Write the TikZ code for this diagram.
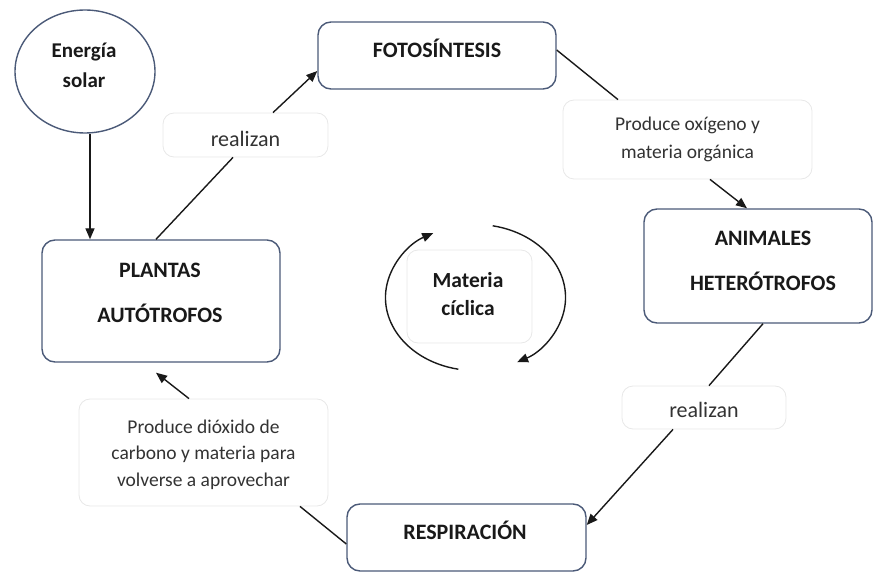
\documentclass[tikz,border=0pt]{standalone}
\usepackage{fontspec}
\setmainfont{Carlito}
\usetikzlibrary{arrows.meta,calc,shapes.geometric}
\definecolor{boxline}{RGB}{75,90,120}
\definecolor{lblline}{RGB}{232,232,232}
\begin{document}
\begin{tikzpicture}[x=1pt,y=-1pt,
  mainbox/.style={draw=boxline, line width=1.4pt, rounded corners=13pt, fill=white, inner sep=0pt},
  lblbox/.style={draw=lblline, line width=0.8pt, rounded corners=11pt, fill=white, inner sep=0pt},
  bigtxt/.style={font=\fontsize{22}{45}\selectfont\bfseries, align=center, text=black!90},
  smalltxt/.style={font=\fontsize{19.5}{27}\selectfont, align=center, text=black!80},
  reltxt/.style={font=\fontsize{22}{25}\selectfont, align=center, text=black!80},
  conn/.style={line width=1.4pt, black!90},
  arr/.style={conn, -{Triangle[length=11pt,width=9pt]}}
]
\useasboundingbox (0,0) rectangle (873,572);

% main boxes
\node[mainbox, ellipse, minimum width=140pt, minimum height=123pt,
  label={[bigtxt, font=\fontsize{21}{30}\selectfont\bfseries, xshift=-1pt, yshift=6.5pt]center:Energía\\solar}] (energia) at (85,71.5) {};
\node[mainbox, minimum width=238pt, minimum height=122pt,
  label={[bigtxt, xshift=-1pt, yshift=8.5pt]center:PLANTAS\\AUTÓTROFOS}] (plantas) at (161,301) {};
\node[mainbox, minimum width=238pt, minimum height=67pt,
  label={[bigtxt, yshift=7.5pt]center:FOTOSÍNTESIS}] (fotos) at (437,55.5) {};
\node[mainbox, minimum width=228pt, minimum height=114pt,
  label={[bigtxt, xshift=5pt, yshift=5.5pt]center:ANIMALES\\HETERÓTROFOS}] (animales) at (758,266) {};
\node[mainbox, minimum width=239pt, minimum height=67pt,
  label={[bigtxt, xshift=-1.5pt, yshift=7.5pt]center:RESPIRACIÓN}] (resp) at (466.5,537.5) {};

% label boxes
\node[lblbox, minimum width=165pt, minimum height=44pt,
  label={[reltxt, yshift=-4pt]center:realizan}] (real1) at (245.5,135) {};
\node[lblbox, minimum width=249pt, minimum height=79pt,
  label={[smalltxt, font=\fontsize{19.5}{28}\selectfont]center:Produce oxígeno y\\materia orgánica}] (oxi) at (687.5,139.5) {};
\node[lblbox, minimum width=164pt, minimum height=43pt,
  label={[reltxt, yshift=-2.5pt]center:realizan}] (real2) at (704,407.5) {};
\node[lblbox, minimum width=249pt, minimum height=107pt,
  label={[smalltxt, font=\fontsize{19.5}{26.5}\selectfont, yshift=-2pt]center:Produce dióxido de\\carbono y materia para\\volverse a aprovechar}] (diox) at (203.5,452.5) {};
\node[lblbox, minimum width=125pt, minimum height=93pt,
  label={[bigtxt, font=\fontsize{21.5}{28}\selectfont\bfseries, xshift=-1.5pt, yshift=2.5pt]center:Materia\\cíclica}] (materia) at (469.5,296.5) {};

% connector end points
\coordinate (e1) at ($(energia.south)+(5,0)$);
\coordinate (p1) at ($(plantas.north)+(-5,0)$);
\coordinate (r1b) at ($(real1.south)+(-12.5,0)$);
\coordinate (r1t) at ($(real1.north)+(27.5,0)$);
\coordinate (f1) at ($(fotos.west)+(0,15.5)$);
\coordinate (f2) at ($(fotos.east)+(0,-5.5)$);
\coordinate (o1) at ($(oxi.north)+(-69.5,0)$);
\coordinate (o2) at ($(oxi.south)+(22.5,0)$);
\coordinate (a1) at ($(animales.north)+(-11,0)$);
\coordinate (a2) at ($(animales.south)+(5,0)$);
\coordinate (r2t) at ($(real2.north)+(5,0)$);
\coordinate (r2b) at ($(real2.south)+(-31,0)$);
\coordinate (s1) at ($(resp.east)+(0,-12.5)$);
\coordinate (s2) at ($(resp.west)+(0,6.5)$);
\coordinate (d1) at ($(diox.south)+(96.5,0)$);
\coordinate (d2) at ($(diox.north)+(-14.5,0)$);
\coordinate (p2) at ($(plantas.south)+(-5,10)$);

% connectors
\draw[arr] (e1) -- (e1 |- plantas.north);
\draw[conn] (p1) -- (r1b);
\draw[arr] (r1t) -- (f1);
\draw[conn] (f2) -- (o1);
\draw[arr] (o2) -- (a1);
\draw[conn] (a2) -- (r2t);
\draw[arr] (r2b) -- (s1);
\draw[conn] (s2) -- (d1);
\draw[arr] (d2) -- (p2);

% cycle arrows around "Materia ciclica"
\coordinate (cc) at (475.5,297.5);
\draw[arr] ([shift={(-17.2,71.7)}]cc) arc[start angle=101, end angle=242, x radius=90, y radius=73];
\draw[arr] ([shift={(17.2,-71.7)}]cc) arc[start angle=281, end angle=422.5, x radius=90, y radius=73];
\end{tikzpicture}
\end{document}
